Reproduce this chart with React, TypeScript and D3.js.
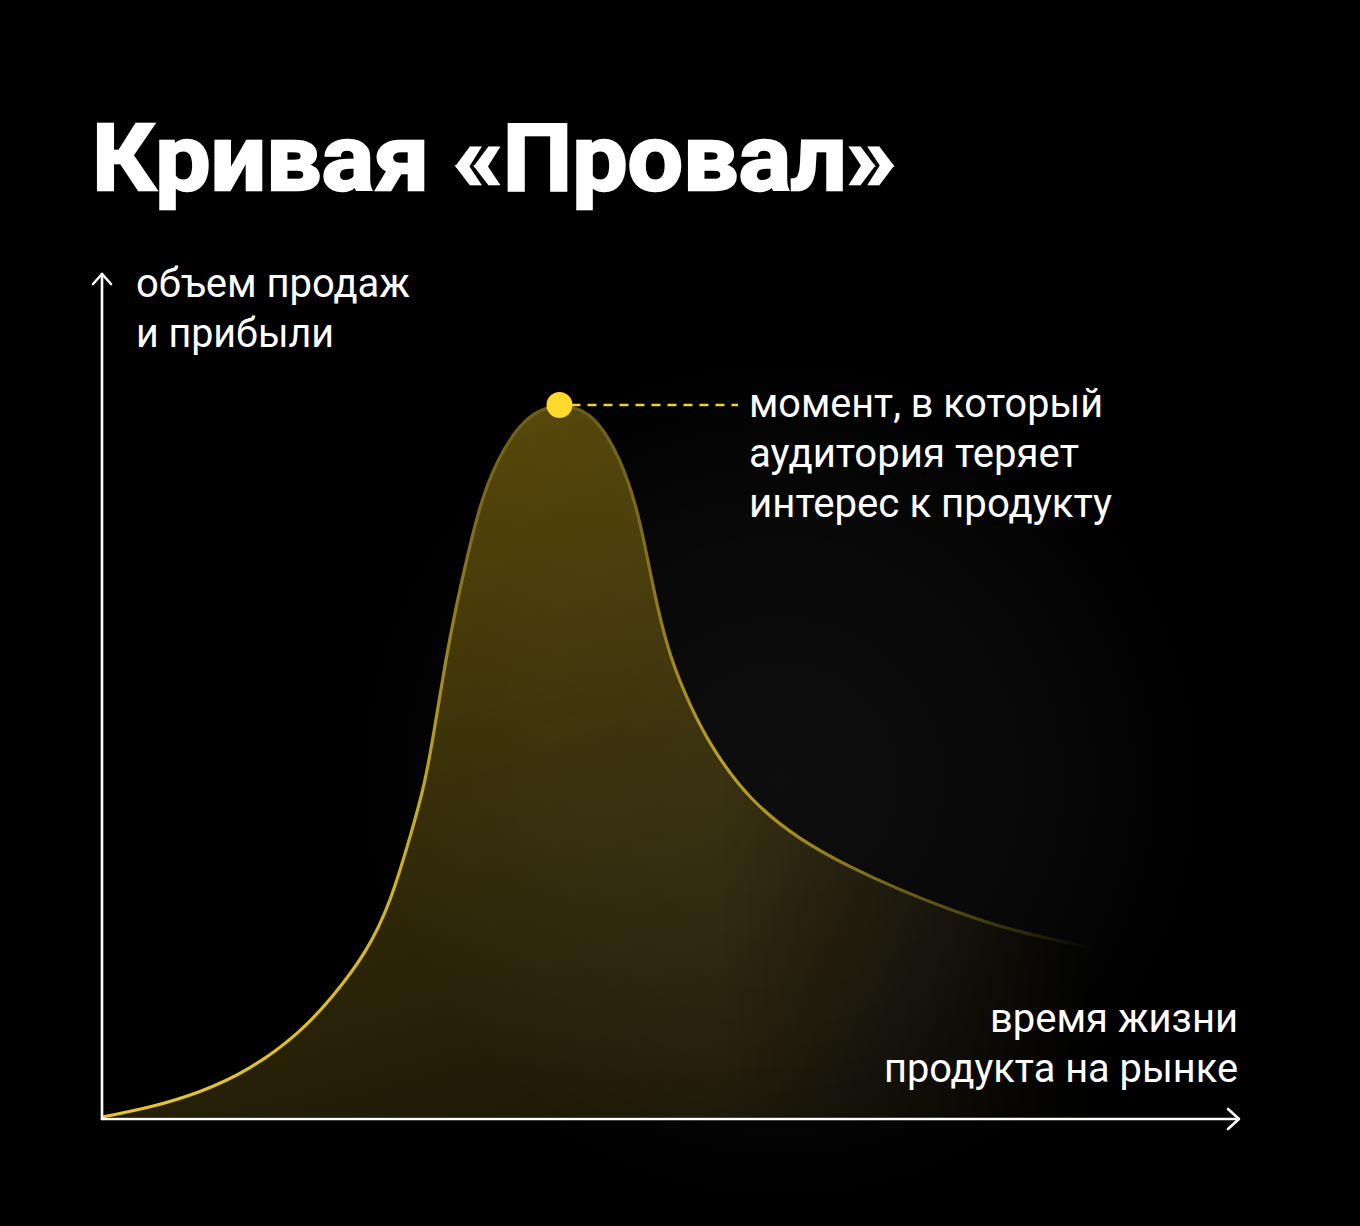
import React from "react";
import * as d3 from "d3";

// ---- data (time share of product life, sales volume as % of peak) ----
const lifeTime: number[] = [0, 4.2, 8.6, 13.0, 17.4, 20.3, 23.2, 25.3, 27.2, 28.4, 29.3, 30.2, 31.1, 32.1, 33.2, 34.7, 36.7, 38.5, 40.2, 41.8, 43.5, 45.5, 47.0, 47.9, 48.8, 49.9, 51.7, 53.7, 56.9, 61.3, 65.7, 70.1, 74.5, 78.9, 83.3, 87.1];
const salesVolume: number[] = [0, 1.3, 3.4, 6.6, 11.8, 16.9, 23.0, 29.8, 40.0, 46.9, 55.3, 64.2, 71.6, 78.7, 86.0, 92.3, 97.3, 99.4, 100, 99.6, 98.0, 92.7, 85.7, 78.7, 71.6, 64.6, 57.6, 51.5, 44.5, 38.9, 35.1, 31.9, 29.1, 26.7, 25.0, 23.7];
const peakIndex = 18;

const titleText = "Кривая «Провал»";
const yLabelLines = ["объем продаж", "и прибыли"];
const xLabelLines = ["время жизни", "продукта на рынке"];
const noteLines = ["момент, в который", "аудитория теряет", "интерес к продукту"];

const W = 1360;
const H = 1226;

export default function App() {
  const x = d3.scaleLinear().domain([0, 100]).range([102, 1240]);
  const y = d3.scaleLinear().domain([0, 100]).range([1117, 405]);

  const pts = lifeTime.map((t, i) => [t, salesVolume[i]] as [number, number]);
  const curve = d3.curveBasis;
  const line = d3
    .line<[number, number]>()
    .x((d) => x(d[0]))
    .y((d) => y(d[1]))
    .curve(curve);
  const area = d3
    .area<[number, number]>()
    .x((d) => x(d[0]))
    .y0(y(0))
    .y1((d) => y(d[1]))
    .curve(curve);

  const px = x(lifeTime[peakIndex]);
  const py = y(salesVolume[peakIndex]);

  const sans = "Roboto, 'Liberation Sans', sans-serif";

  return (
    <svg
      width={W}
      height={H}
      viewBox={`0 0 ${W} ${H}`}
      style={{ position: "absolute", left: 0, top: 0, display: "block" }}
    >
      <defs>
        <radialGradient id="glow" cx="0.5" cy="0.5" r="0.5">
          <stop offset="0" stopColor="#ffffff" stopOpacity="0.055" />
          <stop offset="0.55" stopColor="#ffffff" stopOpacity="0.035" />
          <stop offset="1" stopColor="#ffffff" stopOpacity="0" />
        </radialGradient>
        <linearGradient id="areaFill" x1="560" y1="405" x2="760" y2="1117" gradientUnits="userSpaceOnUse">
          <stop offset="0" stopColor="#ffd21e" stopOpacity="0.34" />
          <stop offset="0.45" stopColor="#ffd21e" stopOpacity="0.21" />
          <stop offset="1" stopColor="#f0d040" stopOpacity="0.11" />
        </linearGradient>
        <linearGradient id="lineStroke" x1="0" y1="1117" x2="0" y2="405" gradientUnits="userSpaceOnUse">
          <stop offset="0" stopColor="#e6c62a" />
          <stop offset="0.45" stopColor="#c4a826" />
          <stop offset="0.75" stopColor="#8a7420" />
          <stop offset="1" stopColor="#6b5b1b" />
        </linearGradient>
        <linearGradient id="fadeRight" x1="0" y1="0" x2={W} y2="0" gradientUnits="userSpaceOnUse">
          <stop offset="0" stopColor="#fff" stopOpacity="1" />
          <stop offset={String(720 / W)} stopColor="#fff" stopOpacity="1" />
          <stop offset={String(1095 / W)} stopColor="#fff" stopOpacity="0" />
        </linearGradient>
        <mask id="fadeMask" maskUnits="userSpaceOnUse" x="0" y="0" width={W} height={H}>
          <rect x="0" y="0" width={W} height={H} fill="url(#fadeRight)" />
        </mask>
      </defs>

      <rect x="0" y="0" width={W} height={H} fill="#000" />
      <ellipse cx="780" cy="780" rx="430" ry="430" fill="url(#glow)" />

      <text
        x={92}
        y={190}
        fill="#fff"
        stroke="#fff"
        strokeWidth={2.5}
        fontFamily={sans}
        fontWeight={700}
        fontSize={92}
        textLength={804}
        lengthAdjust="spacingAndGlyphs"
      >
        {titleText}
      </text>

      <g mask="url(#fadeMask)">
        <path d={area(pts) || ""} fill="url(#areaFill)" />
        <path d={line(pts) || ""} fill="none" stroke="url(#lineStroke)" strokeWidth={3.2} />
      </g>

      {/* axes */}
      <g stroke="#fff" strokeWidth={2.6} fill="none" strokeLinecap="round" strokeLinejoin="round">
        <line x1={102} y1={1119} x2={102} y2={274} />
        <polyline points="93,284 102,274 111,284" />
        <line x1={102} y1={1119} x2={1238} y2={1119} />
        <polyline points="1228,1109 1239,1119 1228,1129" />
      </g>

      {/* peak marker */}
      <line
        x1={px + 12}
        y1={py}
        x2={738}
        y2={py}
        stroke="#f5d02c"
        strokeWidth={2.6}
        strokeDasharray="9 7"
      />
      <circle cx={px} cy={py} r={13} fill="#ffd92c" />

      {/* labels */}
      <g fill="#fff" fontFamily={sans} fontSize={40}>
        <text x={136} y={297} textLength={274} lengthAdjust="spacingAndGlyphs">{yLabelLines[0]}</text>
        <text x={136} y={347} textLength={198} lengthAdjust="spacingAndGlyphs">{yLabelLines[1]}</text>

        <text x={749} y={417} textLength={354} lengthAdjust="spacingAndGlyphs">{noteLines[0]}</text>
        <text x={749} y={467} textLength={330} lengthAdjust="spacingAndGlyphs">{noteLines[1]}</text>
        <text x={749} y={517} textLength={363} lengthAdjust="spacingAndGlyphs">{noteLines[2]}</text>

        <text x={990} y={1032} textLength={248} lengthAdjust="spacingAndGlyphs">{xLabelLines[0]}</text>
        <text x={884} y={1082} textLength={354} lengthAdjust="spacingAndGlyphs">{xLabelLines[1]}</text>
      </g>
    </svg>
  );
}
